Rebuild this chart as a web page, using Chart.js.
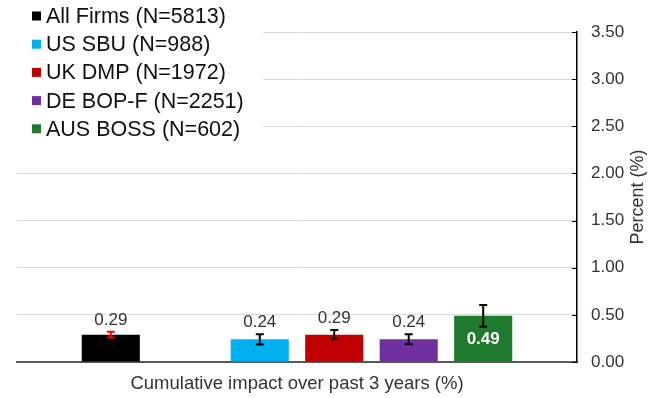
<!DOCTYPE html>
<html>
<head>
<meta charset="utf-8">
<script src="https://cdn.jsdelivr.net/npm/chart.js@4/dist/chart.umd.min.js"></script>
<style>
html, body { margin: 0; padding: 0; background: #fff; }
</style>
</head>
<body>
<canvas id="chart" width="648" height="398"></canvas>
<script>
// Data
const categories = ['Cumulative impact over past 3 years (%)'];
const seriesNames = ['All Firms (N=5813)', 'US SBU (N=988)', 'UK DMP (N=1972)', 'DE BOP-F (N=2251)', 'AUS BOSS (N=602)'];
const seriesValues = [0.29, 0.24, 0.29, 0.24, 0.49];
const seriesErrors = [0.03, 0.055, 0.05, 0.053, 0.115];
const yTicks = [0, 0.5, 1.0, 1.5, 2.0, 2.5, 3.0, 3.5];

// Styles
const seriesColors = ['#000000', '#00B0F0', '#C00000', '#7030A0', '#1E7B2E'];
const errorColors = ['#FF0000', '#000000', '#000000', '#000000', '#000000'];
const labelInside = [false, false, false, false, true];
const FONT = '"Liberation Sans", Arial, sans-serif';

// Build datasets, with an empty slot after "All Firms"
const datasets = [];
seriesNames.forEach((name, i) => {
    datasets.push({
        label: name,
        data: [seriesValues[i]],
        backgroundColor: seriesColors[i],
        seriesIndex: i
    });
    if (i === 0) {
        datasets.push({ label: '', data: [null], backgroundColor: 'rgba(0,0,0,0)' });
    }
});

const overlay = {
    id: 'overlay',
    afterDatasetsDraw(chart) {
        const ctx = chart.ctx;
        const y = chart.scales.y;
        const area = chart.chartArea;
        ctx.save();

        // small tick marks inside the right axis
        ctx.strokeStyle = '#000';
        ctx.lineWidth = 1;
        y.ticks.forEach(t => {
            const py = Math.round(y.getPixelForValue(t.value)) + 0.5;
            ctx.beginPath();
            ctx.moveTo(area.right - 5, py);
            ctx.lineTo(area.right, py);
            ctx.stroke();
        });

        // error bars and value labels
        chart.data.datasets.forEach((ds, i) => {
            if (ds.seriesIndex === undefined) return;
            const k = ds.seriesIndex;
            const bar = chart.getDatasetMeta(i).data[0];
            const v = seriesValues[k];
            const e = seriesErrors[k];
            const top = y.getPixelForValue(v + e);
            const bot = y.getPixelForValue(v - e);
            const x = bar.x;
            const cap = 4;

            ctx.strokeStyle = errorColors[k];
            ctx.lineWidth = 2;
            ctx.beginPath();
            ctx.moveTo(x, top); ctx.lineTo(x, bot);
            ctx.moveTo(x - cap, top); ctx.lineTo(x + cap, top);
            ctx.moveTo(x - cap, bot); ctx.lineTo(x + cap, bot);
            ctx.stroke();

            ctx.textAlign = 'center';
            ctx.textBaseline = 'middle';
            if (labelInside[k]) {
                ctx.fillStyle = '#ffffff';
                ctx.font = 'bold 17px ' + FONT;
                ctx.fillText(v.toFixed(2), x, (bar.y + bar.base) / 2 + 1);
            } else {
                ctx.fillStyle = '#333333';
                ctx.font = '17px ' + FONT;
                ctx.fillText(v.toFixed(2), x, top - 12);
            }
        });
        ctx.restore();
    },
    afterDraw(chart) {
        const ctx = chart.ctx;
        const area = chart.chartArea;
        ctx.save();

        // legend box covers the top gridlines
        ctx.fillStyle = '#ffffff';
        ctx.fillRect(0, 0, 263, 145);
        ctx.font = '21.5px ' + FONT;
        ctx.textAlign = 'left';
        ctx.textBaseline = 'middle';
        seriesNames.forEach((name, i) => {
            const cy = 16 + i * 28.2;
            ctx.fillStyle = seriesColors[i];
            ctx.fillRect(32, cy - 4.5, 9, 9);
            ctx.fillStyle = '#111111';
            ctx.fillText(name, 46, cy + 1);
        });

        // y axis title, reading bottom to top
        ctx.translate(638, (area.top + area.bottom) / 2);
        ctx.rotate(-Math.PI / 2);
        ctx.textAlign = 'center';
        ctx.fillStyle = '#333333';
        ctx.font = '18px ' + FONT;
        ctx.fillText('Percent (%)', 0, 0);
        ctx.restore();
    }
};

new Chart(document.getElementById('chart'), {
    type: 'bar',
    data: {
        labels: categories,
        datasets: datasets
    },
    options: {
        responsive: false,
        animation: false,
        devicePixelRatio: 1,
        categoryPercentage: 0.798,
        barPercentage: 0.78,
        layout: {
            padding: { left: 17, top: 32, right: 0, bottom: 4 }
        },
        plugins: {
            legend: { display: false },
            tooltip: { enabled: false }
        },
        scales: {
            x: {
                afterFit: scale => {
                    scale.height = 32;
                },
                grid: { display: false, drawTicks: false },
                border: { display: true, color: '#595959', width: 2 },
                ticks: {
                    color: '#333333',
                    padding: 11,
                    font: { family: FONT, size: 18.5 }
                }
            },
            y: {
                position: 'right',
                min: 0,
                max: 3.5,
                afterBuildTicks: scale => {
                    scale.ticks = yTicks.map(v => ({ value: v }));
                },
                afterFit: scale => {
                    scale.width = 71;
                },
                grid: { color: '#D9D9D9', lineWidth: 1, drawTicks: false },
                border: { display: true, color: '#000000', width: 1.5 },
                ticks: {
                    color: '#333333',
                    padding: 14,
                    font: { family: FONT, size: 17 },
                    callback: v => Number(v).toFixed(2)
                }
            }
        }
    },
    plugins: [overlay]
});
</script>
</body>
</html>
